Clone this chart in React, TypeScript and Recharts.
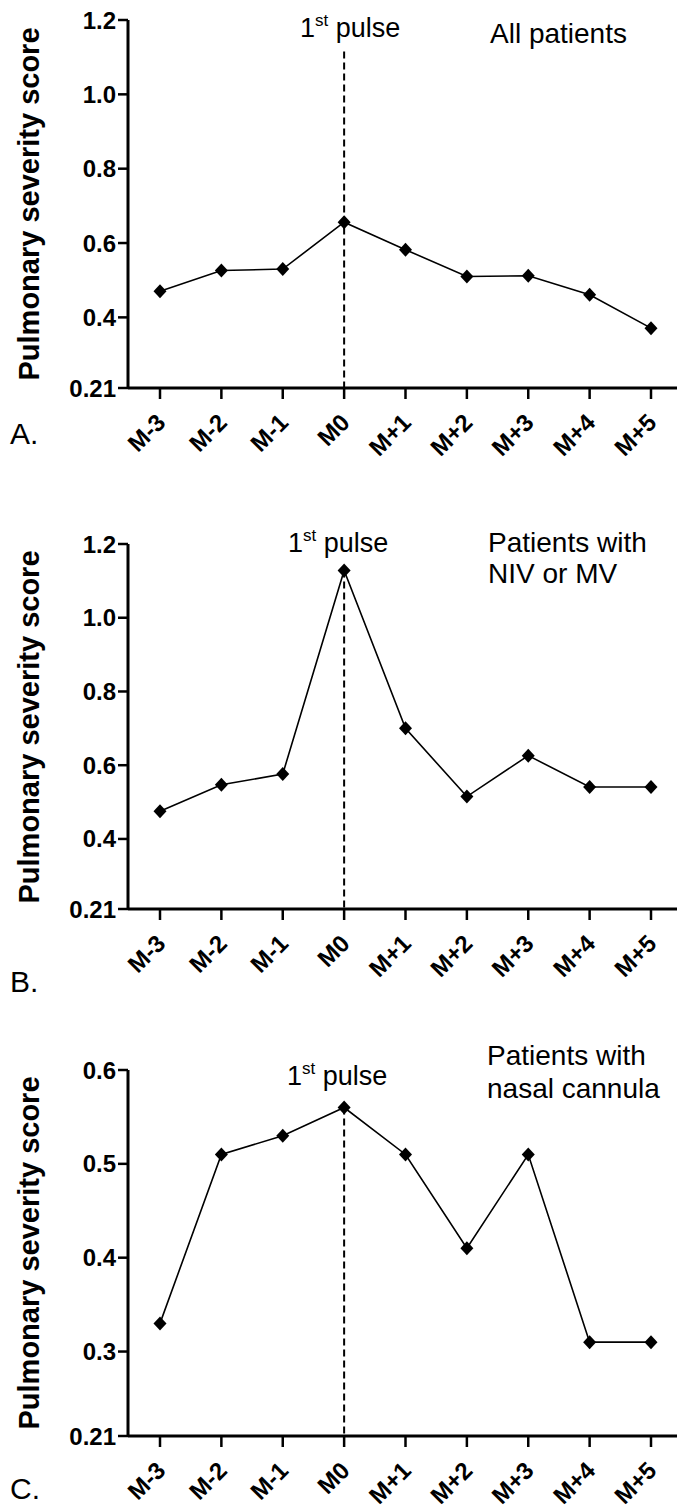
import React from "react";
import { LineChart, Line, XAxis, YAxis, ReferenceLine } from "recharts";

const months = ["M-3", "M-2", "M-1", "M0", "M+1", "M+2", "M+3", "M+4", "M+5"];
const allPatients = [0.47, 0.526, 0.53, 0.656, 0.582, 0.51, 0.512, 0.461, 0.371];
const nivOrMv = [0.475, 0.547, 0.576, 1.128, 0.7, 0.515, 0.626, 0.541, 0.541];
const nasalCannula = [0.33, 0.51, 0.53, 0.56, 0.51, 0.41, 0.51, 0.31, 0.31];
const ticksWide = [0.21, 0.4, 0.6, 0.8, 1.0, 1.2];
const ticksNarrow = [0.21, 0.3, 0.4, 0.5, 0.6];

const FONT = "'Liberation Sans', Arial, sans-serif";

function Diamond({ cx, cy }: { cx?: number; cy?: number }) {
  if (cx == null || cy == null) return null;
  return (
    <path
      d={`M${cx},${cy - 7}L${cx + 6.5},${cy}L${cx},${cy + 7}L${cx - 6.5},${cy}Z`}
      fill="#000"
    />
  );
}

function MonthTick({ x, y, payload }: any) {
  const ax = x + 7;
  const ay = y + 23;
  return (
    <text
      x={ax}
      y={ay}
      transform={`rotate(-45 ${ax} ${ay})`}
      textAnchor="end"
      fontSize={24}
      fontWeight="bold"
      fontFamily={FONT}
      fill="#000"
    >
      {payload.value}
    </text>
  );
}

const fmt = (v: number) => (v === 0.21 ? "0.21" : v.toFixed(1));

type PanelProps = {
  top: number;
  height: number;
  marginTop: number;
  marginBottom: number;
  values: number[];
  ticks: number[];
  pulseTop: number;
};

function Panel({ top, height, marginTop, marginBottom, values, ticks, pulseTop }: PanelProps) {
  const data = months.map((m, i) => ({ month: m, score: values[i] }));
  const lo = ticks[0];
  const hi = ticks[ticks.length - 1];
  return (
    <div style={{ position: "absolute", left: 0, top, width: 677, height }}>
      <LineChart
        width={677}
        height={height}
        data={data}
        margin={{ top: marginTop, right: 0, bottom: marginBottom, left: 0 }}
      >
        <XAxis
          dataKey="month"
          height={60}
          padding={{ left: 32, right: 26 }}
          interval={0}
          tick={<MonthTick />}
          tickSize={11}
          axisLine={{ stroke: "#000", strokeWidth: 3 }}
          tickLine={{ stroke: "#000", strokeWidth: 2.5 }}
        />
        <YAxis
          width={128}
          domain={[lo, hi]}
          ticks={ticks}
          tickFormatter={fmt}
          interval={0}
          tickSize={10}
          allowDataOverflow
          axisLine={{ stroke: "#000", strokeWidth: 3 }}
          tickLine={{ stroke: "#000", strokeWidth: 2.5 }}
          tick={{ fontSize: 24, fontWeight: "bold", fill: "#000", fontFamily: FONT }}
        />
        <ReferenceLine
          segment={[
            { x: "M0", y: pulseTop },
            { x: "M0", y: lo },
          ]}
          stroke="#000"
          strokeWidth={2}
          strokeDasharray="7 4"
        />
        <Line
          type="linear"
          dataKey="score"
          stroke="#000"
          strokeWidth={1.6}
          dot={<Diamond />}
          activeDot={false}
          isAnimationActive={false}
        />
      </LineChart>
    </div>
  );
}

function Pulse({ x, y }: { x: number; y: number }) {
  return (
    <text x={x} y={y} fontSize={27} fontFamily={FONT} fill="#000">
      1
      <tspan fontSize={17} dy={-11}>
        st
      </tspan>
      <tspan dy={11}> pulse</tspan>
    </text>
  );
}

function YLabel({ cy }: { cy: number }) {
  return (
    <text
      x={39}
      y={cy}
      transform={`rotate(-90 39 ${cy})`}
      textAnchor="middle"
      fontSize={29}
      fontWeight="bold"
      fontFamily={FONT}
      fill="#000"
    >
      Pulmonary severity score
    </text>
  );
}

export default function App() {
  return (
    <div
      style={{
        position: "absolute",
        left: 0,
        top: 0,
        width: 677,
        height: 1510,
        background: "#fff",
        overflow: "hidden",
      }}
    >
      <Panel top={0} height={480} marginTop={20} marginBottom={32} values={allPatients} ticks={ticksWide} pulseTop={1.115} />
      <Panel top={480} height={521} marginTop={64} marginBottom={32} values={nivOrMv} ticks={ticksWide} pulseTop={1.128} />
      <Panel top={1001} height={509} marginTop={69} marginBottom={14} values={nasalCannula} ticks={ticksNarrow} pulseTop={0.56} />
      <svg
        width={677}
        height={1510}
        style={{ position: "absolute", left: 0, top: 0, pointerEvents: "none" }}
      >
        <YLabel cy={204} />
        <YLabel cy={727} />
        <YLabel cy={1253} />
        <Pulse x={300} y={37} />
        <Pulse x={288} y={552} />
        <Pulse x={287} y={1085} />
        <g fontSize={28} fontFamily={FONT} fill="#000">
          <text x={490} y={43}>All patients</text>
          <text x={488} y={552}>Patients with</text>
          <text x={488} y={583}>NIV or MV</text>
          <text x={487} y={1065}>Patients with</text>
          <text x={487} y={1098}>nasal cannula</text>
        </g>
        <g fontSize={30} fontFamily={FONT} fill="#000">
          <text x={10} y={444}>A.</text>
          <text x={10} y={992}>B.</text>
          <text x={10} y={1499}>C.</text>
        </g>
      </svg>
    </div>
  );
}
